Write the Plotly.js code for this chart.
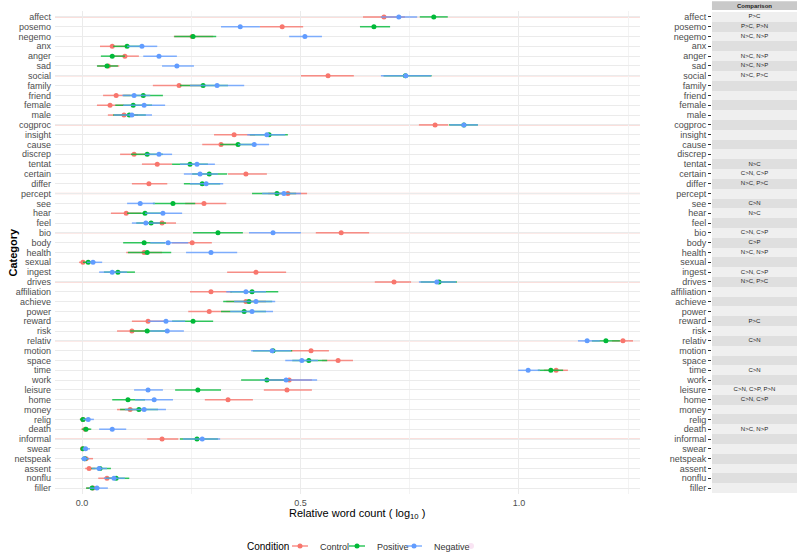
<!DOCTYPE html>
<html>
<head>
<meta charset="utf-8">
<script src="https://cdn.plot.ly/plotly-3.0.1.min.js"></script>
<style>
  html, body { margin: 0; padding: 0; background: #fff; }
  #chart { width: 799px; height: 552px; }
</style>
</head>
<body>
<div id="chart"></div>
<script>
/* LIWC categories, top to bottom */
const categories = ['affect', 'posemo', 'negemo', 'anx', 'anger', 'sad', 'social', 'family', 'friend', 'female', 'male',
  'cogproc', 'insight', 'cause', 'discrep', 'tentat', 'certain', 'differ', 'percept', 'see', 'hear', 'feel',
  'bio', 'body', 'health', 'sexual', 'ingest', 'drives', 'affiliation', 'achieve', 'power', 'reward', 'risk',
  'relativ', 'motion', 'space', 'time', 'work', 'leisure', 'home', 'money', 'relig', 'death',
  'informal', 'swear', 'netspeak', 'assent', 'nonflu', 'filler'];

// summary rows that get the highlighted gridline
const groupRows = ['affect', 'social', 'cogproc', 'percept', 'bio', 'drives', 'relativ', 'informal'];

const controlMean = [0.691, 0.458, 0.252, 0.069, 0.098, 0.060, 0.563, 0.222, 0.078, 0.064, 0.096,
  0.808, 0.348, 0.318, 0.119, 0.172, 0.375, 0.153, 0.471, 0.279, 0.101, 0.183,
  0.593, 0.252, 0.142, 0.002, 0.398, 0.714, 0.295, 0.375, 0.291, 0.151, 0.114,
  1.238, 0.524, 0.586, 1.085, 0.474, 0.469, 0.334, 0.110, 0.002, 0.007,
  0.183, 0.001, 0.009, 0.016, 0.057, 0.025];
const controlLow = [0.643, 0.407, 0.210, 0.041, 0.069, 0.035, 0.501, 0.162, 0.048, 0.034, 0.059,
  0.771, 0.302, 0.275, 0.087, 0.137, 0.334, 0.114, 0.426, 0.236, 0.066, 0.151,
  0.535, 0.206, 0.101, -0.007, 0.332, 0.670, 0.247, 0.330, 0.243, 0.114, 0.080,
  1.213, 0.478, 0.549, 1.057, 0.419, 0.416, 0.281, 0.080, -0.005, -0.002,
  0.149, -0.004, 0.000, 0.007, 0.037, 0.010];
const controlHigh = [0.739, 0.506, 0.300, 0.098, 0.130, 0.085, 0.622, 0.281, 0.110, 0.096, 0.128,
  0.838, 0.396, 0.362, 0.156, 0.206, 0.423, 0.195, 0.515, 0.330, 0.135, 0.215,
  0.657, 0.297, 0.183, 0.014, 0.467, 0.753, 0.343, 0.421, 0.339, 0.190, 0.151,
  1.261, 0.565, 0.620, 1.112, 0.526, 0.526, 0.391, 0.144, 0.011, 0.018,
  0.220, 0.008, 0.025, 0.030, 0.080, 0.040];

const positiveMean = [0.805, 0.668, 0.254, 0.103, 0.069, 0.057, 0.740, 0.277, 0.140, 0.117, 0.108,
  0.874, 0.428, 0.357, 0.149, 0.247, 0.291, 0.275, 0.446, 0.208, 0.144, 0.158,
  0.311, 0.142, 0.149, 0.014, 0.082, 0.817, 0.389, 0.382, 0.371, 0.254, 0.149,
  1.199, 0.437, 0.519, 1.073, 0.423, 0.265, 0.105, 0.130, 0.002, 0.009,
  0.263, 0.002, 0.006, 0.041, 0.078, 0.023];
const positiveLow = [0.773, 0.636, 0.211, 0.071, 0.043, 0.034, 0.690, 0.224, 0.094, 0.076, 0.071,
  0.840, 0.384, 0.316, 0.112, 0.206, 0.252, 0.233, 0.389, 0.162, 0.103, 0.124,
  0.254, 0.094, 0.105, 0.002, 0.050, 0.775, 0.339, 0.323, 0.318, 0.206, 0.110,
  1.167, 0.391, 0.481, 1.043, 0.364, 0.213, 0.069, 0.087, -0.005, 0.000,
  0.224, -0.003, -0.001, 0.021, 0.055, 0.009];
const positiveHigh = [0.837, 0.705, 0.307, 0.137, 0.098, 0.082, 0.800, 0.334, 0.185, 0.160, 0.146,
  0.906, 0.471, 0.398, 0.185, 0.288, 0.332, 0.316, 0.490, 0.259, 0.185, 0.192,
  0.368, 0.190, 0.204, 0.030, 0.121, 0.858, 0.449, 0.435, 0.421, 0.300, 0.190,
  1.231, 0.481, 0.561, 1.101, 0.476, 0.318, 0.144, 0.174, 0.011, 0.021,
  0.311, 0.009, 0.014, 0.066, 0.108, 0.037];

const negativeMean = [0.725, 0.362, 0.510, 0.137, 0.176, 0.217, 0.741, 0.309, 0.119, 0.142, 0.114,
  0.874, 0.423, 0.394, 0.176, 0.263, 0.270, 0.284, 0.462, 0.133, 0.185, 0.146,
  0.437, 0.197, 0.295, 0.025, 0.069, 0.812, 0.375, 0.398, 0.389, 0.192, 0.195,
  1.156, 0.435, 0.503, 1.021, 0.467, 0.151, 0.165, 0.142, 0.014, 0.069,
  0.275, 0.008, 0.005, 0.039, 0.073, 0.034];
const negativeLow = [0.684, 0.318, 0.474, 0.103, 0.140, 0.183, 0.684, 0.247, 0.092, 0.094, 0.073,
  0.842, 0.378, 0.357, 0.144, 0.224, 0.233, 0.247, 0.412, 0.103, 0.144, 0.114,
  0.382, 0.156, 0.238, 0.011, 0.039, 0.771, 0.330, 0.348, 0.339, 0.151, 0.156,
  1.135, 0.387, 0.465, 0.998, 0.407, 0.119, 0.121, 0.098, 0.002, 0.039,
  0.231, 0.001, -0.002, 0.023, 0.050, 0.016];
const negativeHigh = [0.767, 0.407, 0.549, 0.172, 0.217, 0.256, 0.799, 0.371, 0.156, 0.190, 0.160,
  0.906, 0.465, 0.428, 0.206, 0.304, 0.311, 0.323, 0.501, 0.167, 0.229, 0.178,
  0.501, 0.243, 0.355, 0.046, 0.103, 0.856, 0.421, 0.442, 0.437, 0.236, 0.233,
  1.185, 0.478, 0.540, 1.048, 0.538, 0.185, 0.208, 0.192, 0.027, 0.101,
  0.316, 0.018, 0.016, 0.057, 0.098, 0.059];

const comparisons = ['P>C', 'P>C, P>N', 'N>C, N>P', '', 'N>C, N>P', 'N>C, N>P', 'N>C, P>C', '', '', '', '',
  '', '', '', '', 'N>C', 'C>N, C>P', 'N>C, P>C', '', 'C>N', 'N>C', '',
  'C>N, C>P', 'C>P', 'N>C, N>P', '', 'C>N, C>P', 'N>C, P>C', '', '', '', 'P>C', '',
  'C>N', '', '', 'C>N', '', 'C>N, C>P, P>N', 'C>N, C>P', '', '', 'N>C, N>P',
  '', '', '', '', '', ''];

const xTicks = [0, 0.5, 1.0];

const conditions = [
  { name: 'Control', color: '#F8766D', line: 'rgba(248,118,109,0.8)', mean: controlMean, low: controlLow, high: controlHigh },
  { name: 'Positive', color: '#00BA38', line: 'rgba(0,186,56,0.8)', mean: positiveMean, low: positiveLow, high: positiveHigh },
  { name: 'Negative', color: '#619CFF', line: 'rgba(97,156,255,0.8)', mean: negativeMean, low: negativeLow, high: negativeHigh },
];

const FONT = 'Liberation Sans, Arial, sans-serif';
const yRange = [categories.length - 0.4, -0.6];

const traces = [];

// point + interval for each condition
conditions.forEach(c => {
  traces.push({
    type: 'scatter',
    mode: 'markers',
    x: c.mean,
    y: categories,
    xaxis: 'x',
    yaxis: 'y',
    showlegend: false,
    hoverinfo: 'skip',
    marker: { color: c.color, size: 5 },
    error_x: {
      type: 'data',
      symmetric: false,
      array: c.high.map((h, i) => h - c.mean[i]),
      arrayminus: c.mean.map((m, i) => m - c.low[i]),
      color: c.line,
      thickness: 1.5,
      width: 0,
    },
  });
});

// legend-only glyphs (short line + point, dash trims the 30px legend line)
conditions.forEach(c => {
  traces.push({
    type: 'scatter',
    mode: 'lines+markers',
    x: [null],
    y: [null],
    name: c.name,
    xaxis: 'x',
    yaxis: 'y',
    line: { color: c.line, width: 1.5, dash: '0px,7px,16px,100px' },
    marker: { color: c.color, size: 5 },
  });
});
// blank entry so the last legend label is not clipped
traces.push({
  type: 'scatter',
  mode: 'markers',
  x: [null],
  y: [null],
  name: ' ',
  marker: { opacity: 0 },
});

// comparison table: striped row backgrounds + text
traces.push({
  type: 'bar',
  orientation: 'h',
  x: categories.map(() => 1),
  y: categories,
  xaxis: 'x2',
  yaxis: 'y2',
  showlegend: false,
  hoverinfo: 'skip',
  marker: { color: categories.map((_, i) => (i % 2 ? '#DFDFDF' : '#EFEFEF')), line: { width: 0 } },
});
traces.push({
  type: 'scatter',
  mode: 'text',
  x: categories.map(() => 0.5),
  y: categories,
  text: comparisons,
  xaxis: 'x2',
  yaxis: 'y2',
  showlegend: false,
  hoverinfo: 'skip',
  textfont: { family: FONT, size: 6, color: '#222' },
});

const shapes = groupRows.map(g => ({
  type: 'line',
  xref: 'x', yref: 'y',
  x0: -0.062, x1: 1.277, y0: g, y1: g,
  layer: 'below',
  line: { color: '#F9D5D1', width: 1.5 },
}));
// "Comparison" header strip
shapes.push({
  type: 'rect',
  xref: 'paper', yref: 'paper',
  x0: 0.8854, x1: 1, y0: 1.002, y1: 1.02,
  fillcolor: '#C9C9C9',
  layer: 'above',
  line: { width: 0 },
});

const layout = {
  width: 799,
  height: 552,
  margin: { l: 55, r: 2, t: 11, b: 58 },
  paper_bgcolor: '#fff',
  plot_bgcolor: 'rgba(0,0,0,0)',
  font: { family: FONT, size: 9, color: '#4D4D4D' },
  bargap: 0,
  showlegend: true,
  xaxis: {
    domain: [0, 0.7884],
    range: [-0.062, 1.277],
    tickvals: xTicks,
    tickformat: '.1f',
    showgrid: true,
    gridcolor: '#EBEBEB',
    gridwidth: 1,
    minor: { dtick: 0.25, tick0: 0, showgrid: true, gridcolor: '#F3F3F3', gridwidth: 1 },
    zeroline: false,
    ticks: '',
    showline: false,
    automargin: false,
    ticklabelstandoff: 2,
    tickfont: { size: 9, color: '#4D4D4D' },
  },
  yaxis: {
    type: 'category',
    categoryorder: 'array',
    categoryarray: categories,
    tickmode: 'array',
    tickvals: categories,
    range: yRange,
    showgrid: true,
    gridcolor: '#EBEBEB',
    gridwidth: 1,
    zeroline: false,
    ticks: '',
    ticklabelstandoff: 3,
    automargin: false,
    tickfont: { size: 9, color: '#4D4D4D' },
  },
  xaxis2: {
    domain: [0.8854, 1],
    range: [0, 1],
    anchor: 'y2',
    showgrid: false,
    zeroline: false,
    showticklabels: false,
    ticks: '',
    automargin: false,
  },
  yaxis2: {
    type: 'category',
    categoryorder: 'array',
    categoryarray: categories,
    tickmode: 'array',
    tickvals: categories,
    range: yRange,
    anchor: 'x2',
    showgrid: false,
    zeroline: false,
    ticks: 'outside',
    ticklen: 3,
    tickcolor: '#333',
    tickwidth: 1,
    automargin: false,
    tickfont: { size: 9, color: '#4D4D4D' },
  },
  shapes: shapes,
  annotations: [
    {
      text: 'Comparison',
      xref: 'paper', yref: 'paper',
      x: 0.9427, y: 1.011,
      xanchor: 'center', yanchor: 'middle',
      showarrow: false,
      font: { size: 6, color: '#222', weight: 'bold' },
    },
    {
      text: 'Relative word count ( log<sub>10</sub> )',
      xref: 'paper', yref: 'paper',
      x: (357 - 55) / 742, y: (494 - 514) / 483,
      xanchor: 'center', yanchor: 'middle',
      showarrow: false,
      font: { size: 11, color: '#000' },
    },
    {
      text: 'Category',
      xref: 'paper', yref: 'paper',
      x: (12 - 55) / 742, y: 0.5,
      xanchor: 'center', yanchor: 'middle',
      textangle: -90,
      showarrow: false,
      font: { size: 11, color: '#000', weight: 'bold' },
    },
    {
      text: 'Condition',
      xref: 'paper', yref: 'paper',
      x: (245 - 55) / 742, y: (494 - 546) / 483,
      xanchor: 'left', yanchor: 'middle',
      showarrow: false,
      font: { size: 10, color: '#000' },
    },
  ],
  legend: {
    orientation: 'h',
    xref: 'paper',
    yref: 'container',
    x: (280 - 55) / 742,
    xanchor: 'left',
    y: (552 - 546) / 552,
    yanchor: 'middle',
    font: { size: 9, color: '#333' },
    entrywidth: 12,
    entrywidthmode: 'pixels',
    itemwidth: 30,
    tracegroupgap: 0,
    bgcolor: 'rgba(0,0,0,0)',
  },
};

Plotly.newPlot('chart', traces, layout, { displayModeBar: false, staticPlot: true });
</script>
</body>
</html>
